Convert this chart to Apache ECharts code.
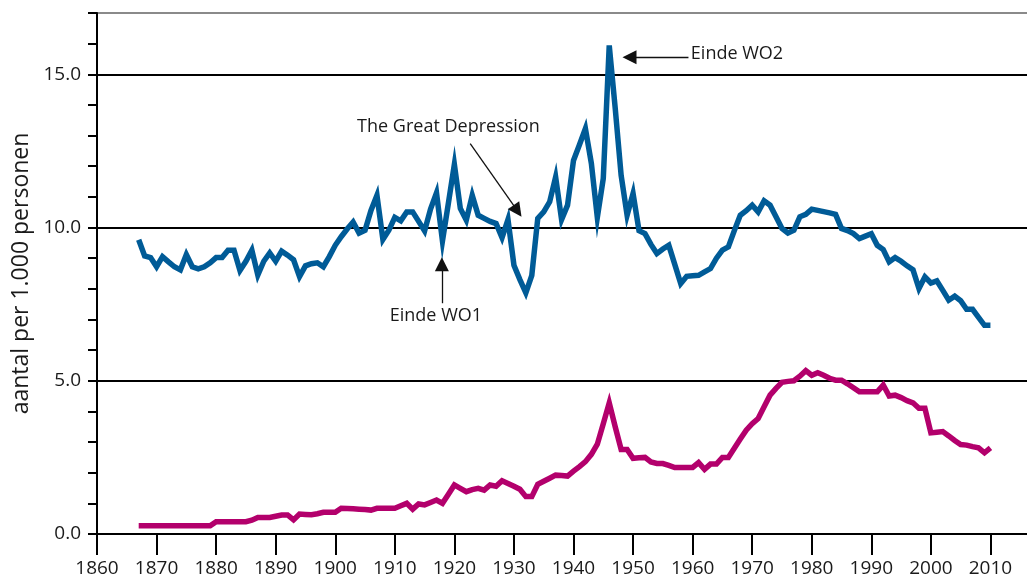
<!DOCTYPE html>
<html><head><meta charset="utf-8">
<script src="https://cdn.jsdelivr.net/npm/echarts@6/dist/echarts.min.js"></script>
<style>html,body{margin:0;padding:0;background:#fff;overflow:hidden}#c{width:1050px;height:577px}</style>
</head><body><div id="c"></div><script>
const years = [
1867,1868,1869,1870,1871,1872,1873,1874,1875,1876,
1877,1878,1879,1880,1881,1882,1883,1884,1885,1886,
1887,1888,1889,1890,1891,1892,1893,1894,1895,1896,
1897,1898,1899,1900,1901,1902,1903,1904,1905,1906,
1907,1908,1909,1910,1911,1912,1913,1914,1915,1916,
1917,1918,1919,1920,1921,1922,1923,1924,1925,1926,
1927,1928,1929,1930,1931,1932,1933,1934,1935,1936,
1937,1938,1939,1940,1941,1942,1943,1944,1945,1946,
1947,1948,1949,1950,1951,1952,1953,1954,1955,1956,
1957,1958,1959,1960,1961,1962,1963,1964,1965,1966,
1967,1968,1969,1970,1971,1972,1973,1974,1975,1976,
1977,1978,1979,1980,1981,1982,1983,1984,1985,1986,
1987,1988,1989,1990,1991,1992,1993,1994,1995,1996,
1997,1998,1999,2000,2001,2002,2003,2004,2005,2006,
2007,2008,2009,2010];
const huwelijken = [
9.60,9.07,9.02,8.72,9.05,8.88,8.72,8.62,9.12,8.72,
8.65,8.72,8.85,9.02,9.02,9.26,9.26,8.60,8.90,9.26,
8.45,8.90,9.17,8.90,9.23,9.10,8.95,8.40,8.75,8.82,
8.85,8.72,9.05,9.42,9.70,9.95,10.18,9.82,9.91,10.56,
11.05,9.61,9.91,10.33,10.22,10.51,10.51,10.20,9.89,10.60,
11.13,9.56,10.80,12.06,10.62,10.24,11.05,10.40,10.30,10.20,
10.13,9.67,10.26,8.77,8.30,7.87,8.44,10.30,10.51,10.84,
11.65,10.26,10.73,12.19,12.70,13.23,12.09,10.33,11.60,15.94,
13.90,11.70,10.40,11.11,9.90,9.80,9.45,9.15,9.30,9.42,
8.80,8.17,8.41,8.43,8.44,8.55,8.66,9.00,9.26,9.37,
9.90,10.40,10.55,10.73,10.51,10.87,10.73,10.35,9.97,9.82,
9.91,10.35,10.43,10.60,10.56,10.52,10.48,10.43,9.97,9.90,
9.80,9.64,9.72,9.80,9.42,9.28,8.88,9.02,8.90,8.75,
8.62,8.01,8.39,8.19,8.26,7.95,7.63,7.76,7.61,7.33,
7.33,7.07,6.81,6.81];
const echtscheidingen = [
0.27,0.27,0.27,0.27,0.27,0.27,0.27,0.27,0.27,0.27,
0.27,0.27,0.27,0.40,0.40,0.40,0.40,0.40,0.40,0.45,
0.54,0.54,0.54,0.58,0.62,0.62,0.46,0.65,0.64,0.63,
0.66,0.71,0.71,0.71,0.84,0.83,0.82,0.81,0.80,0.78,
0.84,0.84,0.84,0.84,0.92,1.00,0.81,0.98,0.95,1.03,
1.11,1.00,1.30,1.60,1.49,1.38,1.45,1.49,1.43,1.60,
1.56,1.74,1.65,1.56,1.46,1.22,1.22,1.62,1.72,1.82,
1.92,1.91,1.89,2.05,2.20,2.36,2.60,2.93,3.60,4.28,
3.50,2.76,2.76,2.47,2.49,2.50,2.35,2.30,2.30,2.24,
2.17,2.17,2.17,2.17,2.33,2.11,2.28,2.28,2.50,2.50,
2.80,3.10,3.39,3.60,3.77,4.15,4.53,4.75,4.95,4.98,
5.00,5.15,5.33,5.18,5.26,5.18,5.08,5.02,5.02,4.90,
4.77,4.64,4.64,4.64,4.64,4.86,4.50,4.53,4.45,4.35,
4.28,4.10,4.10,3.30,3.32,3.34,3.20,3.05,2.92,2.90,
2.85,2.81,2.65,2.81];
const yTitle = 'aantal per 1.000 personen';
const annotationTexts = ['Einde WO2', 'The Great Depression', 'Einde WO1'];
const annotationAnchors = [[1959.7, 15.67], [1919.0, 13.30], [1916.9, 7.11]];
const annotationAlign = ['left', 'center', 'center'];
const arrowFrom = [[1959.3, 15.56], [1922.66, 12.74], [1917.9, 7.53]];
const arrowTo = [[1949.4, 15.56], [1930.6, 10.54], [1917.9, 8.80]];

if (years.length !== huwelijken.length || years.length !== echtscheidingen.length) {
  throw new Error('length mismatch ' + years.length + ' ' + huwelijken.length + ' ' + echtscheidingen.length);
}

const FONT = '"Open Sans", "Noto Sans", sans-serif';
const splitColors = [];
for (let v = 0; v <= 17; v++) {
  if (v === 17) splitColors.push('#8a8a8a');
  else if (v % 5 === 0) splitColors.push('#000');
  else splitColors.push('rgba(0,0,0,0)');
}

const chart = echarts.init(document.getElementById('c'), null, {renderer: 'canvas', width: 1050, height: 577});
chart.setOption({
  animation: false,
  backgroundColor: '#fff',
  grid: {left: 97, right: 0, top: 13, bottom: 43, containLabel: false, outerBoundsMode: 'none'},
  xAxis: {
    type: 'value', min: 1860, max: 2020, interval: 10,
    axisLine: {show: true, onZero: false, lineStyle: {color: '#000', width: 2}},
    axisTick: {show: true, length: 21, lineStyle: {color: '#000', width: 2}},
    axisLabel: {fontSize: 19, fontFamily: FONT, color: '#1a1a1a', margin: 25, formatter: v => String(v)},
    splitLine: {show: false}
  },
  yAxis: {
    type: 'value', min: 0, max: 17, interval: 1,
    name: yTitle, nameLocation: 'middle', nameGap: 62,
    nameTextStyle: {fontSize: 23, fontFamily: FONT, color: '#1a1a1a'},
    axisLine: {show: true, lineStyle: {color: '#000', width: 2}},
    axisTick: {show: true, length: 9, lineStyle: {color: '#000', width: 2}},
    axisLabel: {fontSize: 19, fontFamily: FONT, color: '#1a1a1a', margin: 16,
      formatter: v => (v % 5 === 0 ? v.toFixed(1) : '')},
    splitLine: {show: true, lineStyle: {color: splitColors, width: 2}}
  },
  series: [
    {
      name: 'Huwelijken', type: 'line', symbol: 'none', showSymbol: false,
      data: years.map((y, i) => [y, huwelijken[i]]),
      lineStyle: {color: '#005b97', width: 5.5, join: 'miter', cap: 'butt', miterLimit: 10},
      itemStyle: {color: '#005b97'}, z: 3,
      markLine: {
        silent: true, animation: false,
        symbol: ['none', 'triangle'], symbolSize: 14,
        label: {show: false},
        lineStyle: {color: '#111', width: 1.3, type: 'solid'},
        itemStyle: {color: '#111'},
        data: arrowFrom.map((f, i) => [{coord: f}, {coord: arrowTo[i]}])
      }
    },
    {
      name: 'Echtscheidingen', type: 'line', symbol: 'none', showSymbol: false,
      data: years.map((y, i) => [y, echtscheidingen[i]]),
      lineStyle: {color: '#b3006c', width: 5.5, join: 'miter', cap: 'butt', miterLimit: 10},
      itemStyle: {color: '#b3006c'}, z: 3
    }
  ]
});

const graphics = annotationTexts.map((t, i) => {
  const p = chart.convertToPixel({gridIndex: 0}, annotationAnchors[i]);
  return {
    type: 'text', x: p[0], y: p[1], z: 10,
    style: {text: t, fill: '#1a1a1a', fontSize: 18, fontFamily: FONT,
      align: annotationAlign[i], verticalAlign: 'middle'}
  };
});
chart.setOption({graphic: graphics});
</script></body></html>
